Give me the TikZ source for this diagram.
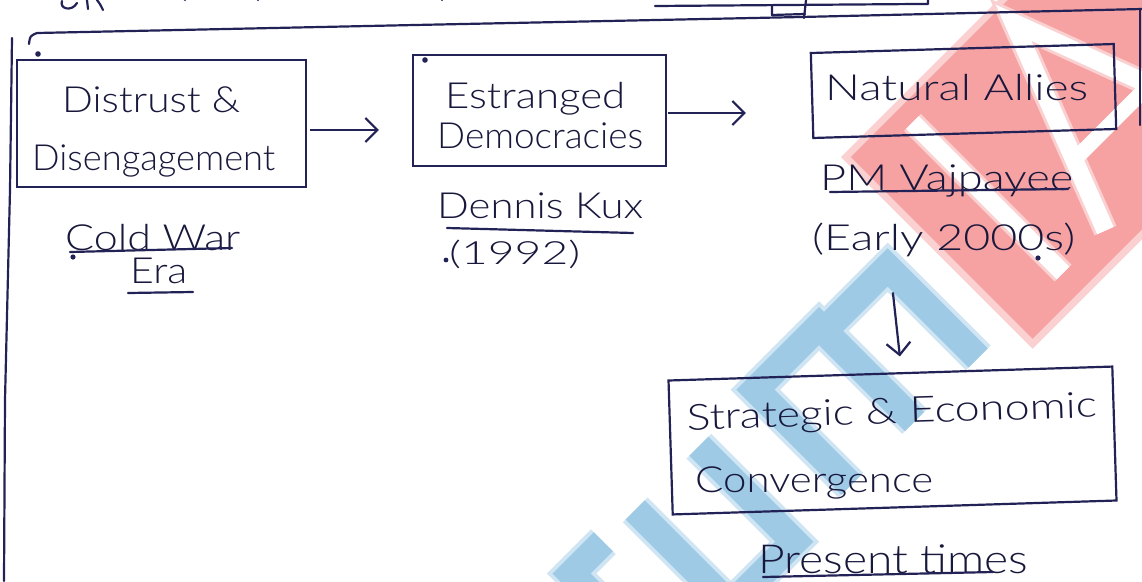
\documentclass[tikz,border=0pt]{standalone}
\usepackage{graphicx}
\usepackage{fontspec}
\setmainfont{Lato}[UprightFont={* Light}]
\usetikzlibrary{arrows.meta}
\definecolor{ink}{RGB}{34,34,86}
\definecolor{inktext}{RGB}{24,24,60}
\definecolor{wmred}{RGB}{246,162,162}
\definecolor{wmredlt}{RGB}{251,208,208}
\definecolor{wmblue}{RGB}{158,202,230}
\definecolor{wmbluelt}{RGB}{208,229,243}
\newcommand{\hw}[2]{\resizebox{#1pt}{\height}{#2}}
\tikzset{
  box/.style={draw=ink, line width=2.2pt, rectangle, inner sep=0pt},
  hand/.style={text=inktext, font=\fontsize{36}{40}\selectfont, inner sep=0pt, anchor=base west},
  arr/.style={draw=ink, line width=2.2pt, -{Straight Barb[length=12pt,width=24pt,line width=2.2pt]}},
  ink stroke/.style={draw=ink, line width=2.2pt, line cap=round, line join=round},
  wmb/.style={draw=wmblue, line width=27pt, line join=miter, line cap=butt},
  wmbhalo/.style={draw=wmbluelt, line width=35pt, line join=miter, line cap=butt},
  wmw/.style={draw=white, line width=18pt, line join=miter, line cap=butt},
  inkdot/.style={fill=ink, draw=none}
}
\begin{document}
\begin{tikzpicture}[x=1pt,y=1pt]
\useasboundingbox (0,0) rectangle (1142,-581);
\clip (0,0) rectangle (1142,-581);
\fill[white] (0,0) rectangle (1142,-581);

% ---------- watermark ----------
\begin{scope}[shift={(1063,-273)}, rotate=45]
  \fill[wmredlt] (-75,-32) rectangle (280,239);
  \fill[wmred] (-68,-25) rectangle (280,232);
  \draw[draw=wmredlt, line width=24pt] (0,0) -- (0,213);
  \draw[wmw] (0,0) -- (0,213);
  \draw[draw=wmredlt, line width=24pt, line join=miter] (60,0) -- (142,212) -- (221,0);
  \draw[wmw] (60,0) -- (142,212) -- (221,0);
  \draw[wmw, line width=15pt] (86,72) -- (194,72);
  % blue letters (r u m)
  \draw[wmbhalo] (-300,0) -- (-300,135) -- (-210,135) -- (-210,0);
  \draw[wmbhalo] (-210,128) -- (-120,128) -- (-120,0);
  \draw[wmbhalo] (-470,135) -- (-470,0) -- (-380,0) -- (-380,135);
  \draw[wmbhalo] (-560,0) -- (-560,135) -- (-515,135);
  \draw[wmb] (-300,0) -- (-300,135) -- (-210,135) -- (-210,0);
  \draw[wmb] (-210,128) -- (-120,128) -- (-120,0);
  \draw[wmb] (-470,135) -- (-470,0) -- (-380,0) -- (-380,135);
  \draw[wmb] (-560,0) -- (-560,135) -- (-515,135);
\end{scope}

% ---------- fragments of cut-off writing at the top ----------
\draw[ink stroke] (62,-1) .. controls (59,-9) and (72,-12) .. (77,-3);
\draw[ink stroke] (87,0) -- (88,-9);
\draw[ink stroke] (97,0) .. controls (100,-4) .. (103,-10);
\draw[ink stroke] (185,0) .. controls (181,22) and (176,44) .. (167,45) .. controls (157,45) and (160,25) .. (176,12);
\draw[ink stroke] (258,0) .. controls (255,15) and (252,25) .. (246,27);
\draw[ink stroke] (442,0) .. controls (440,18) and (432,35) .. (424,35) .. controls (414,34) and (418,18) .. (432,8);
\draw[ink stroke] (655,-6) -- (918,-4) -- (928,-4) -- (928,0);
\draw[ink stroke] (772,-6) -- (772,-15) -- (805,-14);
\draw[ink stroke] (806,0) -- (804,-18);

% ---------- outer frame ----------
\draw[ink stroke] (29,-44) .. controls (30,-36) .. (37,-33) -- (415,-25) -- (801,-17) -- (1142,-9);
\draw[ink stroke] (1140,-10) -- (1140,-125);
\draw[ink stroke] (12,-38) -- (10,-190) -- (5,-400) -- (4,-581);

% ---------- boxes ----------
\node[box, minimum width=289pt, minimum height=127pt] (b1) at (161.5,-123.5) {};
\node[box, minimum width=253pt, minimum height=111pt] (b2) at (539.5,-110.5) {};
\node[box, minimum width=303pt, minimum height=85pt, rotate=1.7] (b3) at (963.5,-91) {};
\node[box, minimum width=444pt, minimum height=134pt, rotate=1.8] (b4) at (892.5,-440.5) {};

% ---------- texts ----------
\node[hand] (t1a) at (62,-112) {\hw{178}{Distrust \&}};
\node[hand] (t1b) at (32,-170) {\hw{243}{Disengagement}};
\node[hand] (t2a) at (445,-108) {\hw{180}{Estranged}};
\node[hand] (t2b) at (437,-148) {\hw{206}{Democracies}};
\node[hand] (t3) at (825,-100) {\hw{263}{Natural Allies}};
\node[hand, rotate=1.8] (t4a) at (687,-430) {\hw{410}{Strategic \& Economic}};
\node[hand] (t4b) at (695,-492) {\hw{238}{Convergence}};

\node[hand] (l1a) at (65,-250) {\hw{175}{Cold War}};
\node[hand] (l1b) at (130,-283) {\hw{57}{Era}};
\node[hand] (l2a) at (437,-218) {\hw{206}{Dennis Kux}};
\node[hand, font=\fontsize{32}{36}\selectfont] (l2b) at (449,-264) {\hw{131}{(1992)}};
\node[hand] (l3a) at (820,-190) {\hw{253}{PM Vajpayee}};
\node[hand] (l3b) at (812,-250) {\hw{263}{(Early 2000s)}};
\node[hand, font=\fontsize{40}{44}\selectfont] (l4) at (758,-573) {\hw{270}{Present times}};

% underlines
\draw[ink stroke] (70,-252) -- (232,-248);
\draw[ink stroke] (128,-293) -- (193,-292);
\draw[ink stroke] (447,-228) -- (633,-233);
\draw[ink stroke] (830,-192) -- (1068,-189);
\draw[ink stroke] (763,-577) -- (993,-572);

% dots
\fill[inkdot] (38,-54) circle (2.8);
\fill[inkdot] (425,-60) circle (2.8);
\fill[inkdot] (73,-257) circle (2.6);
\fill[inkdot] (446,-260) circle (2.4);
\fill[inkdot] (1038,-258) circle (2.6);

% ---------- connectors ----------
\coordinate (a1s) at ([yshift=-6.5pt]b1.east);
\coordinate (a1e) at (a1s -| b2.west);
\draw[arr, shorten >=33pt, shorten <=3pt] (a1s) -- (a1e);
\coordinate (a2s) at ([yshift=-2.5pt]b2.east);
\coordinate (a2e) at (a2s -| b3.west);
\draw[arr, shorten >=65pt, shorten <=1pt] (a2s) -- (a2e);
\coordinate (a3s) at ([shift={(2.5,80)}]b4.north);
\coordinate (a3e) at ([shift={(9.5,16)}]b4.north);
\draw[arr] (a3s) -- (a3e);
\end{tikzpicture}
\end{document}
